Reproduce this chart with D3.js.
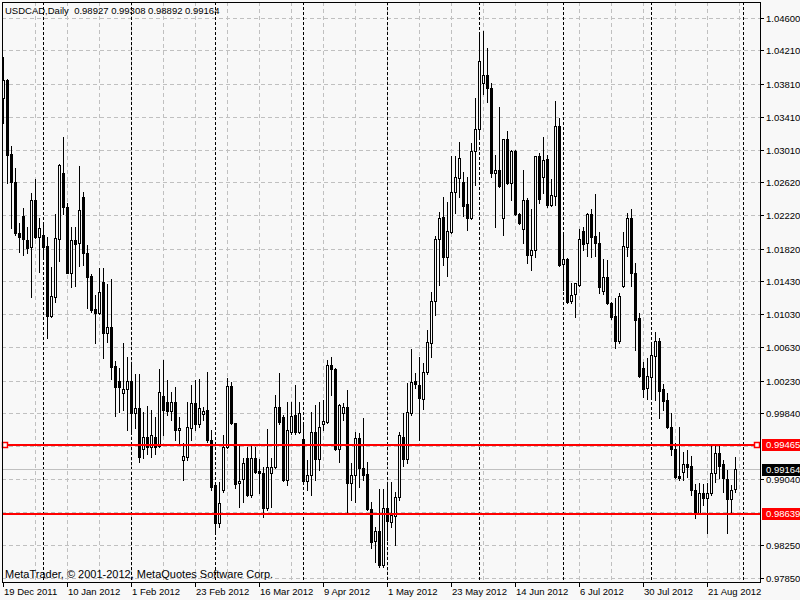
<!DOCTYPE html>
<html><head><meta charset="utf-8">
<script src="https://cdn.jsdelivr.net/npm/d3@7"></script>
<style>
html,body{margin:0;padding:0;background:#F8F8F8;}
svg{display:block;font-family:"Liberation Sans",Arial,sans-serif;font-size:9.5px;}
text{white-space:pre;}
</style></head><body>
<svg id="chart" width="800" height="600"></svg>
<script>
// ---------------- data ----------------
const symbolTitle = "USDCAD,Daily";
const lastBar = ["0.98927", "0.99308", "0.98892", "0.99164"];
const copyright = "MetaTrader, \u00A9 2001-2012, MetaQuotes Software Corp.";

const opens = [1.03636,1.03853,1.02961,1.02624,1.02008,1.02213,1.01924,1.01839,1.02406,1.01960,
1.01984,1.01852,1.01008,1.01237,1.01936,1.02732,1.02322,1.01526,1.01924,1.01888,
1.02443,1.01767,1.01490,1.01093,1.01044,1.01418,1.00803,1.00876,1.00405,1.00225,
1.00080,1.00128,1.00225,0.99838,0.99899,0.99404,0.99549,0.99428,0.99549,0.99441,
1.00044,0.99971,0.99862,0.99971,0.99633,0.99272,0.99308,0.99657,0.99959,0.99706,
0.99826,0.99874,0.99513,0.98970,0.98513,0.98910,0.99428,1.00164,0.99718,0.98995,
0.99043,0.99296,0.98850,0.99296,0.99139,0.99115,0.98694,0.99115,0.99187,0.99911,
0.99790,0.99031,0.99609,0.99814,0.99609,0.99525,0.99019,0.99091,0.99609,0.99284,
0.99706,0.99730,1.00417,1.00369,0.99404,0.99838,0.99911,0.98995,0.99091,0.99537,
0.99175,0.99103,0.98682,0.98296,0.98416,0.98006,0.98694,0.98525,0.98597,0.98826,
0.99549,0.99284,0.99838,1.00225,1.00176,1.00008,1.00333,1.00683,1.01189,1.01936,
1.02201,1.01719,1.02020,1.02503,1.02672,1.02624,1.02358,1.02189,1.02997,1.03262,
1.03817,1.03913,1.03756,1.02732,1.02768,1.02189,1.03142,1.02612,1.02997,1.02237,
1.02056,1.02406,1.01743,1.01803,1.02937,1.02684,1.02901,1.02346,1.02455,1.03299,
1.01635,1.01695,1.01189,1.01273,1.01381,1.02032,1.01888,1.02237,1.01972,1.01888,
1.01309,1.01478,1.01165,1.01008,1.00707,1.01369,1.01839,1.02189,1.01526,1.00984,
1.00381,1.00140,1.00273,1.00526,1.00707,1.00128,0.99995,0.99670,0.99404,0.99079,
0.99127,0.99224,0.99199,0.98910,0.98633,0.98874,0.98814,0.98874,0.99115,0.99356,
0.99224,0.99043,0.98802,0.98927];

const highs = [1.04130,1.03865,1.03058,1.02792,1.02129,1.02310,1.02081,1.02491,1.02660,1.02189,
1.02117,1.01960,1.01598,1.02237,1.02841,1.03166,1.02370,1.02081,1.02081,1.02816,
1.02503,1.01864,1.01514,1.01261,1.01586,1.01586,1.01393,1.01454,1.00466,1.00381,
1.00683,1.00514,1.00454,1.00309,1.00309,0.99850,0.99923,0.99874,0.99790,1.00369,
1.00478,1.00237,1.00092,1.00152,0.99790,0.99477,0.99971,1.00176,1.00237,1.00249,
0.99911,1.00333,0.99633,0.98970,0.99007,0.99573,1.00261,1.00213,0.99718,0.99453,
0.99296,0.99428,0.99441,0.99428,0.99284,0.99187,0.99645,0.99296,1.00056,1.00321,
0.99814,0.99971,0.99971,1.00176,0.99971,0.99694,0.99272,0.99850,0.99935,0.99971,
0.99995,1.00478,1.00514,1.00381,0.99947,0.99959,1.00116,0.99236,0.99609,0.99597,
0.99778,0.99248,0.98766,0.98465,0.98922,0.98922,0.99007,0.99007,0.98886,0.99609,
0.99838,1.00201,1.00610,1.00321,1.00514,1.00442,1.00839,1.01297,1.01972,1.02261,
1.02443,1.02382,1.02937,1.02937,1.03106,1.02744,1.02684,1.03094,1.03636,1.04419,
1.04443,1.04238,1.03817,1.02949,1.03528,1.03142,1.03238,1.03009,1.03009,1.02249,
1.02768,1.02431,1.02298,1.02937,1.02973,1.03166,1.02949,1.02660,1.03600,1.03395,
1.02008,1.01707,1.01406,1.01406,1.02056,1.02081,1.02249,1.02298,1.02479,1.02020,
1.01695,1.01683,1.01177,1.01225,1.01285,1.02020,1.02249,1.02298,1.01647,1.01044,
1.00454,1.00502,1.00683,1.00815,1.00743,1.00188,1.00080,0.99838,0.99477,0.99670,
0.99368,0.99392,0.99320,0.98982,0.98995,0.98982,0.98995,0.99441,0.99441,0.99441,
0.99272,0.99151,0.98970,0.99308];

const lows = [1.03335,1.02612,1.02068,1.01984,1.01779,1.01743,1.01767,1.01237,1.01948,1.01538,
1.01719,1.00743,1.00996,1.01177,1.01671,1.02237,1.01526,1.01357,1.01369,1.01610,
1.01622,1.01105,1.01056,1.00683,1.01032,1.00502,1.00695,1.00249,0.99802,0.99850,
0.99874,0.99633,0.99597,0.99657,0.99248,0.99296,0.99344,0.99308,0.99344,0.99428,
0.99573,0.99814,0.99754,0.99513,0.99477,0.99031,0.99272,0.99513,0.99633,0.99670,
0.99754,0.99489,0.98910,0.98416,0.98465,0.98886,0.99416,0.99706,0.98934,0.98706,
0.98766,0.98838,0.98826,0.99115,0.98874,0.98585,0.98669,0.98706,0.99175,0.99706,
0.99019,0.98970,0.99585,0.99585,0.99597,0.99007,0.98910,0.98850,0.99031,0.99151,
0.99633,0.99718,1.00056,0.99392,0.99248,0.99754,0.98645,0.98790,0.98766,0.98946,
0.99031,0.98669,0.98211,0.98043,0.97982,0.97982,0.98308,0.98465,0.98248,0.98790,
0.99199,0.99236,0.99814,1.00140,0.99513,0.99887,1.00309,1.00514,1.01020,1.01381,
1.01622,1.01490,1.02008,1.02249,1.02443,1.02213,1.02044,1.02177,1.02587,1.03166,
1.03684,1.03588,1.02684,1.02081,1.02563,1.01984,1.02599,1.02406,1.02225,1.02117,
1.01888,1.01647,1.01562,1.01719,1.02370,1.02491,1.02322,1.02334,1.02346,1.01610,
1.01321,1.01165,1.01165,1.00996,1.01369,1.01803,1.01731,1.01719,1.01731,1.01285,
1.01273,1.01153,1.00972,1.00622,1.00683,1.01357,1.01731,1.01369,1.00598,1.00273,
1.00032,1.00008,1.00032,0.99995,0.99778,0.99874,0.99657,0.99332,0.99055,0.99031,
0.99031,0.99067,0.98850,0.98573,0.98621,0.98730,0.98392,0.98850,0.99007,0.99055,
0.98886,0.98392,0.98645,0.98892];

const closes = [1.03853,1.02949,1.02624,1.02008,1.01960,1.01936,1.01827,1.02406,1.01960,1.02068,
1.01839,1.01008,1.01249,1.01948,1.02828,1.02322,1.01526,1.01924,1.01876,1.02285,
1.01767,1.01478,1.01080,1.01044,1.01297,1.00803,1.00876,1.00393,1.00152,1.00152,
1.00128,1.00225,0.99838,0.99899,0.99308,0.99549,0.99428,0.99573,0.99428,1.00092,
0.99874,0.99862,0.99971,0.99633,0.99657,0.99320,0.99670,0.99959,0.99706,0.99899,
0.99862,0.99513,0.98946,0.98513,0.98754,0.99428,1.00164,0.99718,0.98982,0.99019,
0.99236,0.98850,0.99296,0.99127,0.99115,0.98694,0.99187,0.99187,0.99911,0.99730,
0.99031,0.99633,0.99802,0.99609,0.99838,0.99019,0.99091,0.99609,0.99284,0.99670,
0.99742,1.00417,1.00369,0.99404,0.99935,0.99911,0.98995,0.99091,0.99537,0.99175,
0.99091,0.98682,0.98284,0.98416,0.98006,0.98694,0.98537,0.98609,0.98826,0.99573,
0.99284,0.99850,1.00213,1.00188,1.00020,1.00333,1.00695,1.01189,1.01936,1.02189,
1.01719,1.02032,1.02503,1.02684,1.02913,1.02334,1.02189,1.02997,1.03262,1.04082,
1.03913,1.03756,1.02732,1.02768,1.02575,1.03142,1.02612,1.02997,1.02237,1.02129,
1.02406,1.01743,1.01803,1.02937,1.02419,1.02889,1.02346,1.02467,1.03299,1.01622,
1.01695,1.01177,1.01261,1.01406,1.01936,1.01876,1.02237,1.01960,1.01888,1.01357,
1.01478,1.01165,1.00996,1.00707,1.01249,1.01852,1.02189,1.01526,1.00960,1.00285,
1.00128,1.00285,1.00538,1.00707,1.00104,0.99983,0.99670,0.99404,0.99067,0.99055,
0.99224,0.99187,0.98910,0.98633,0.98874,0.98814,0.98874,0.99115,0.99356,0.99199,
0.99055,0.98802,0.98910,0.99164];

const dateLabels = ["19 Dec 2011","10 Jan 2012","1 Feb 2012","23 Feb 2012","16 Mar 2012","9 Apr 2012",
  "1 May 2012","23 May 2012","14 Jun 2012","6 Jul 2012","30 Jul 2012","21 Aug 2012"];
const dateLabelBars = [0,16,32,48,64,80,96,112,128,144,160,176];
const monthSeparatorBars = [10,32,53,75,96,119,140,162,185];
const priceTickLabels = ["1.04600","1.04210","1.03810","1.03410","1.03010","1.02620","1.02220","1.01820",
  "1.01430","1.01030","1.00630","1.00230","0.99840","0.99040","0.98250","0.97850"];
const hiddenGridPrices = [0.99440, 0.98640];
const horizontalLines = [0.99465, 0.98639];
const bidPrice = 0.99164;

// ---------------- drawing ----------------
(function () {
const W = 800, H = 600;
const pL = 2, pT = 2, pR = 760, pB = 582;
const BG = "#F8F8F8", GRID = "#C0C0C0";
const svg = d3.select("#chart");
svg.append("rect").attr("width", W).attr("height", H).attr("fill", BG);

const n = Math.min(opens.length, highs.length, lows.length, closes.length);
const x = d3.scaleLinear().domain([0, 183]).range([3, 3 + 4 * 183]);
const y = d3.scaleLinear().domain([0.97850, 1.04600]).range([578, 18]);
const py = v => Math.round(y(v));

svg.append("defs").append("clipPath").attr("id", "plot")
  .append("rect").attr("x", pL + 1).attr("y", pT + 1)
  .attr("width", pR - pL - 1).attr("height", pB - pT - 1);

const plot = svg.append("g").attr("clip-path", "url(#plot)");

const gridPrices = priceTickLabels.map(Number).concat(hiddenGridPrices);
plot.append("g").selectAll("line").data(gridPrices).join("line")
  .attr("x1", pL).attr("x2", pR)
  .attr("y1", d => py(d) + 0.5).attr("y2", d => py(d) + 0.5)
  .attr("stroke", GRID).attr("stroke-dasharray", "4,3");

plot.append("g").selectAll("line").data(d3.range(8, 186, 8)).join("line")
  .attr("x1", d => Math.round(x(d)) + 0.5).attr("x2", d => Math.round(x(d)) + 0.5)
  .attr("y1", pT).attr("y2", pB)
  .attr("stroke", GRID).attr("stroke-dasharray", "4,3");

plot.append("g").selectAll("line").data(monthSeparatorBars).join("line")
  .attr("x1", d => Math.round(x(d)) + 0.5).attr("x2", d => Math.round(x(d)) + 0.5)
  .attr("y1", pT).attr("y2", pB)
  .attr("stroke", "#000").attr("stroke-dasharray", "3,2");

plot.append("line").attr("x1", pL).attr("x2", pR)
  .attr("y1", py(bidPrice) + 0.5).attr("y2", py(bidPrice) + 0.5)
  .attr("stroke", GRID);

const bars = d3.range(n).map(i => ({i, o: opens[i], h: highs[i], l: lows[i], c: closes[i]}));
const cg = plot.append("g");
bars.forEach(b => {
  const cx = Math.round(x(b.i));
  const yh = py(b.h), yl = py(b.l), yo = py(b.o), yc = py(b.c);
  cg.append("line").attr("x1", cx + 0.5).attr("x2", cx + 0.5)
    .attr("y1", yh).attr("y2", yl + 1).attr("stroke", "#000");
  if (b.c < b.o) {
    cg.append("rect").attr("x", cx - 1).attr("y", yo).attr("width", 3)
      .attr("height", Math.max(1, yc - yo + 1)).attr("fill", "#000");
  } else if (yo === yc) {
    cg.append("rect").attr("x", cx - 1).attr("y", yc).attr("width", 3)
      .attr("height", 1).attr("fill", "#000");
  } else {
    cg.append("rect").attr("x", cx - 0.5).attr("y", yc + 0.5).attr("width", 2)
      .attr("height", yo - yc).attr("fill", BG).attr("stroke", "#000");
  }
});

plot.append("g").selectAll("rect").data(horizontalLines).join("rect")
  .attr("x", pL).attr("width", pR - pL)
  .attr("y", d => py(d)).attr("height", 2).attr("fill", "#FF0000");

[5, 757].forEach(mx => {
  const yy = py(horizontalLines[0]);
  svg.append("rect").attr("x", mx - 2.5).attr("y", yy - 2 + 0.5).attr("width", 5).attr("height", 5)
    .attr("fill", "#FFFFFF").attr("stroke", "#FF0000").attr("stroke-width", 1.5);
});

svg.append("rect").attr("x", pL + 0.5).attr("y", pT + 0.5)
  .attr("width", pR - pL).attr("height", pB - pT)
  .attr("fill", "none").attr("stroke", "#000");

const ra = svg.append("g");
priceTickLabels.forEach(t => {
  const yy = py(+t);
  ra.append("line").attr("x1", pR + 1).attr("x2", pR + 4)
    .attr("y1", yy + 0.5).attr("y2", yy + 0.5).attr("stroke", "#000");
  ra.append("text").attr("x", 766).attr("y", yy + 4).attr("fill", "#000").text(t);
});

const boxes = [
  {v: horizontalLines[0], bg: "#FF0000"},
  {v: bidPrice, bg: "#000000"},
  {v: horizontalLines[1], bg: "#FF0000"}
];
boxes.forEach(b => {
  const yy = py(b.v);
  ra.append("rect").attr("x", 762).attr("y", yy - 5).attr("width", 38).attr("height", 12).attr("fill", b.bg);
  ra.append("text").attr("x", 766).attr("y", yy + 4).attr("fill", "#FFFFFF").text(b.v.toFixed(5));
});

const ba = svg.append("g");
dateLabels.forEach((t, k) => {
  const xx = Math.round(x(dateLabelBars[k]));
  ba.append("line").attr("x1", xx + 0.5).attr("x2", xx + 0.5).attr("y1", pB).attr("y2", pB + 5)
    .attr("stroke", "#000");
  ba.append("text").attr("x", xx + 1).attr("y", 595).attr("fill", "#000").text(t);
});

svg.append("text").attr("x", 5).attr("y", 14).attr("fill", "#000")
  .text(symbolTitle + "  " + lastBar.join(" "));
svg.append("text").attr("x", 5).attr("y", 578).attr("fill", "#000")
  .style("font-size", "11px").text(copyright);
})();
</script>
</body></html>
